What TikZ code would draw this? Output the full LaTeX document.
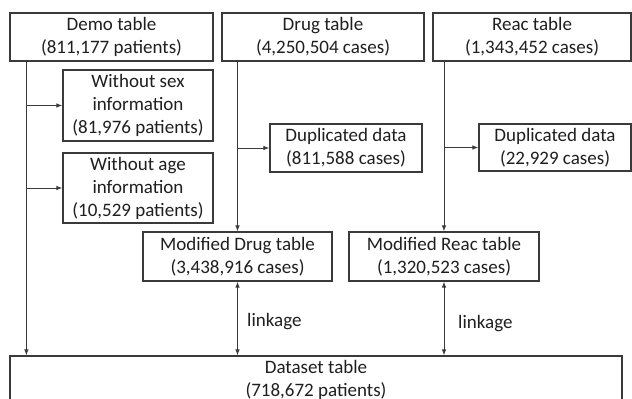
\documentclass[tikz,border=0pt]{standalone}
\usepackage{fontspec}
\setmainfont{Carlito}
\usetikzlibrary{arrows.meta,calc}
\definecolor{ln}{HTML}{3A3A3A}
\definecolor{tx}{HTML}{1E1E1E}
\begin{document}
\begin{tikzpicture}[x=1pt,y=-1pt,
  box/.style={draw=ln,line width=1.2pt,inner sep=0pt,align=center,text=tx,
    font=\fontsize{19}{23}\selectfont},
  arr/.style={draw=ln,line width=0.9pt,-{Latex[length=6pt,width=4.5pt]}},
  darr/.style={draw=ln,line width=0.9pt,{Latex[length=6pt,width=4.5pt]}-{Latex[length=6pt,width=4.5pt]}},
  lbl/.style={text=tx,font=\fontsize{19}{23}\selectfont,inner sep=0pt,anchor=west}]
\useasboundingbox (0,0) rectangle (632,399);
\clip (0,0) rectangle (632,399);
% top tables
\node[box,minimum width=203,minimum height=48] (demo) at (111.5,37) {Demo table\\(811,177 patients)};
\node[box,minimum width=202,minimum height=48] (drug) at (323,37) {Drug table\\(4,250,504 cases)};
\node[box,minimum width=198,minimum height=48] (reac) at (532,37) {Reac table\\(1,343,452 cases)};
% exclusions
\node[box,minimum width=150,minimum height=71] (sex) at (138,105.5) {Without sex\\information\\(81,976 patients)};
\node[box,minimum width=150,minimum height=70] (age) at (138,188) {Without age\\information\\(10,529 patients)};
\node[box,minimum width=152,minimum height=48] (dupd) at (346,148) {Duplicated data\\(811,588 cases)};
\node[box,minimum width=152,minimum height=47] (dupr) at (555,147.5) {Duplicated data\\(22,929 cases)};
% modified
\node[box,minimum width=189,minimum height=49] (moddrug) at (237.5,256.5) {Modified Drug table\\(3,438,916 cases)};
\node[box,minimum width=190,minimum height=49] (modreac) at (444,256.5) {Modified Reac table\\(1,320,523 cases)};
% dataset
\node[box,minimum width=612,minimum height=64,text depth=0pt] (dataset) at (316,388) {};
\node[text=tx,font=\fontsize{19}{23}\selectfont,align=center,inner sep=0pt] (dstext) at (316,380) {Dataset table\\(718,672 patients)};
% demo line
\coordinate (dtop) at ([xshift=17]demo.south west);
\draw[arr] (dtop) -- (dtop |- dataset.north);
\draw[arr] (dtop |- sex.west) -- (sex.west);
\draw[arr] (dtop |- age.west) -- (age.west);
% drug line
\draw[arr] (moddrug.north |- drug.south) -- (moddrug.north);
\draw[arr] (moddrug.north |- dupd.west) -- (dupd.west);
% reac line
\draw[arr] (modreac.north |- reac.south) -- (modreac.north);
\draw[arr] (modreac.north |- dupr.west) -- (dupr.west);
% linkage
\draw[darr] (moddrug.south) -- (moddrug.south |- dataset.north);
\draw[darr] (modreac.south) -- (modreac.south |- dataset.north);
\node[lbl] (l1) at (247,322) {linkage};
\node[lbl] (l2) at (458,324) {linkage};
\end{tikzpicture}
\end{document}
